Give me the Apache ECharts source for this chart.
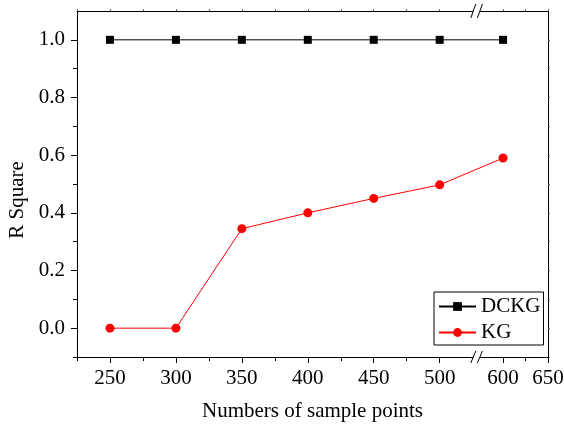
<!DOCTYPE html>
<html><head><meta charset="utf-8">
<script src="https://cdn.jsdelivr.net/npm/echarts@6/dist/echarts.min.js"></script>
<style>html,body{margin:0;padding:0;background:#fff}#c{width:564px;height:427px}</style>
</head><body><div id="c"></div>
<script>
// ---- data ----
const samplePoints = [250, 300, 350, 400, 450, 500, 600];
const dckg = [1.0, 1.0, 1.0, 1.0, 1.0, 1.0, 1.0];
const kg = [0.0, 0.0, 0.345, 0.40, 0.45, 0.497, 0.59];
const xTickValues = [250, 300, 350, 400, 450, 500, 600, 650];
const xTickLabels = ['250', '300', '350', '400', '450', '500', '600', '650'];
const xMinorValues = [225, 275, 325, 375, 425, 475, 625];
const yTickValues = [0, 0.2, 0.4, 0.6, 0.8, 1.0];
const yTickLabels = ['0.0', '0.2', '0.4', '0.6', '0.8', '1.0'];
const yMinorValues = [-0.1, 0.1, 0.3, 0.5, 0.7, 0.9];

// ---- broken x scale (525..575 removed, right part compressed) ----
const BREAK_FROM = 525, BREAK_TO = 575, BREAK_GAP = 6, RIGHT_RATIO = 45 / 66;
function bx(v) { return v <= BREAK_FROM ? v : BREAK_FROM + BREAK_GAP + (v - BREAK_TO) * RIGHT_RATIO; }
const X_MIN = 225, X_MAX = bx(650);

const FONT = "'Liberation Serif','Times New Roman',serif";
const chart = echarts.init(document.getElementById('c'));

const xMajorPos = xTickValues.map(bx);
function xLabel(v) {
  let best = 0, bd = Infinity;
  xMajorPos.forEach((p, i) => { const d = Math.abs(p - v); if (d < bd) { bd = d; best = i; } });
  return xTickLabels[best];
}
function yLabel(v) {
  let best = 0, bd = Infinity;
  yTickValues.forEach((p, i) => { const d = Math.abs(p - v); if (d < bd) { bd = d; best = i; } });
  return yTickLabels[best];
}

const axisLine = { show: true, onZero: false, lineStyle: { color: '#000', width: 1 } };
const noLine = { show: false, onZero: false };
const option = {
  animation: false,
  backgroundColor: '#fff',
  grid: { left: 77, right: 16, top: 11, bottom: 70, containLabel: false, outerBoundsMode: 'none' },
  legend: {
    orient: 'vertical', left: 434, top: 292,
    padding: [4, 3, 2, 4], itemGap: 5, itemWidth: 37, itemHeight: 11,
    borderColor: '#000', borderWidth: 1, borderRadius: 0,
    textStyle: { fontFamily: FONT, fontSize: 21, color: '#000' },
    data: ['DCKG', 'KG']
  },
  xAxis: [
    { type: 'value', min: X_MIN, max: X_MAX, position: 'bottom',
      axisLine: axisLine,
      axisTick: { show: true, inside: false, length: 6, customValues: xMajorPos, lineStyle: { color: '#000' } },
      axisLabel: { show: true, margin: 11, customValues: xMajorPos, formatter: xLabel,
        fontFamily: FONT, fontSize: 21, color: '#000' },
      splitLine: { show: false },
      name: 'Numbers of sample points', nameLocation: 'middle', nameGap: 44,
      nameTextStyle: { fontFamily: FONT, fontSize: 21, color: '#000' } },
    { type: 'value', min: X_MIN, max: X_MAX, position: 'bottom',
      axisLine: noLine,
      axisTick: { show: true, inside: false, length: 4, customValues: xMinorValues.map(bx), lineStyle: { color: '#000' } },
      axisLabel: { show: false }, splitLine: { show: false } },
    { type: 'value', min: X_MIN, max: X_MAX, position: 'top',
      axisLine: axisLine,
      axisTick: { show: true, inside: false, length: 2, customValues: xMajorPos.concat(xMinorValues.map(bx)), lineStyle: { color: '#666' } },
      axisLabel: { show: false }, splitLine: { show: false } }
  ],
  yAxis: [
    { type: 'value', min: -0.1, max: 1.1, position: 'left',
      axisLine: axisLine,
      axisTick: { show: true, inside: false, length: 6, customValues: yTickValues, lineStyle: { color: '#000' } },
      axisLabel: { show: true, margin: 12, customValues: yTickValues, formatter: yLabel,
        fontFamily: FONT, fontSize: 21, color: '#000' },
      splitLine: { show: false },
      name: 'R Square', nameLocation: 'middle', nameGap: 47,
      nameTextStyle: { fontFamily: FONT, fontSize: 21, color: '#000', padding: [0, 32, 0, 0] } },
    { type: 'value', min: -0.1, max: 1.1, position: 'left',
      axisLine: noLine,
      axisTick: { show: true, inside: false, length: 4, customValues: yMinorValues, lineStyle: { color: '#000' } },
      axisLabel: { show: false }, splitLine: { show: false } },
    { type: 'value', min: -0.1, max: 1.1, position: 'right',
      axisLine: axisLine,
      axisTick: { show: true, inside: false, length: 2, customValues: yTickValues.concat(yMinorValues), lineStyle: { color: '#666' } },
      axisLabel: { show: false }, splitLine: { show: false } }
  ],
  series: [
    { name: 'DCKG', type: 'line', xAxisIndex: 0, yAxisIndex: 0,
      data: samplePoints.map((x, i) => [bx(x), dckg[i]]),
      symbol: 'rect', symbolSize: 8,
      lineStyle: { color: '#000', width: 1 }, itemStyle: { color: '#000' } },
    { name: 'KG', type: 'line', xAxisIndex: 0, yAxisIndex: 0,
      data: samplePoints.map((x, i) => [bx(x), kg[i]]),
      symbol: 'circle', symbolSize: 9,
      lineStyle: { color: '#ff0000', width: 1 }, itemStyle: { color: '#ff0000' } }
  ]
};
chart.setOption(option);

// break marks on bottom and top axis lines
const cx = chart.convertToPixel({ xAxisIndex: 0 }, (bx(BREAK_FROM) + bx(BREAK_TO)) / 2);
const yBottom = chart.convertToPixel({ yAxisIndex: 0 }, -0.1);
const yTop = chart.convertToPixel({ yAxisIndex: 0 }, 1.1);
const g = [];
[[yBottom, 6], [yTop, 7]].forEach(([y, h]) => {
  g.push({ type: 'rect', shape: { x: cx - 3.3, y: y - 2, width: 6.6, height: 4 }, style: { fill: '#fff' }, z: 100 });
  g.push({ type: 'line', shape: { x1: cx - 5.8, y1: y + h, x2: cx - 0.8, y2: y - h }, style: { stroke: '#000', lineWidth: 1 }, z: 101 });
  g.push({ type: 'line', shape: { x1: cx + 0.8, y1: y + h, x2: cx + 5.8, y2: y - h }, style: { stroke: '#000', lineWidth: 1 }, z: 101 });
});
chart.setOption({ graphic: g });
</script>
</body></html>
